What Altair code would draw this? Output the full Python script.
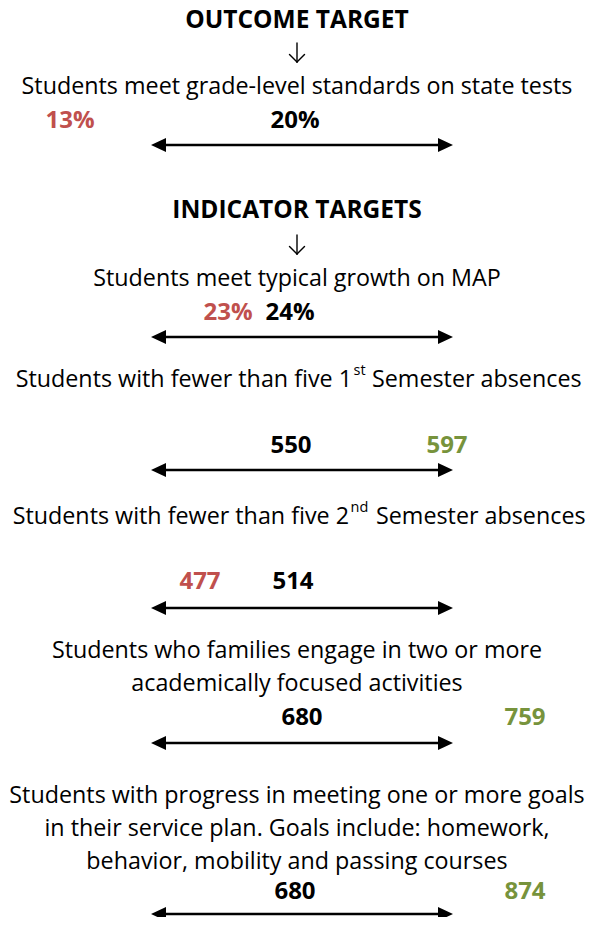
import altair as alt
import pandas as pd

# ---------------- data ----------------
headings = ["OUTCOME TARGET", "INDICATOR TARGETS"]

indicator_lines = [
    ["Students meet grade-level standards on state tests"],
    ["Students meet typical growth on MAP"],
    ["Students with fewer than five 1|st|Semester absences"],
    ["Students with fewer than five 2|nd|Semester absences"],
    ["Students who families engage in two or more",
     "academically focused activities"],
    ["Students with progress in meeting one or more goals",
     "in their service plan. Goals include: homework,",
     "behavior, mobility and passing courses"],
]

targets = ["20%", "24%", "550", "514", "680", "680"]
actuals = ["13%", "23%", "597", "477", "759", "874"]
status = ["below", "below", "above", "below", "above", "above"]

# ---------------- layout (page pixels) ----------------
heading_y = [21, 211]
down_arrow_y = [43, 235]            # top of the small down arrow
line_y = [[87], [279], [380], [517], [651, 684], [796, 829, 862]]
sup_x = [None, None, 352, 349, None, None]   # end of text before superscript
sup_next = [None, None, 372, 376, None, None]
number_y = [121, 313, 446, 582, 718, 892]
target_x = [295, 290, 291, 293, 302, 295]
actual_x = [70, 228, 447, 200, 525, 525]
arrow_y = [145, 337, 470, 608, 743, 914]
arrow_left, arrow_right = 151, 453

FONT = "Open Sans"
BODY = 23.3
NUM = 24
HEAD = 24.5
RED = "#C0504D"
GREEN = "#77933C"
status_color = {"below": RED, "above": GREEN}

# ---------------- tables ----------------
head_df = pd.DataFrame({"text": headings, "x": [297] * len(headings), "y": heading_y})

num_rows = []
for i in range(len(targets)):
    num_rows.append({"text": targets[i], "x": target_x[i], "y": number_y[i], "c": "#000000"})
    num_rows.append({"text": actuals[i], "x": actual_x[i], "y": number_y[i], "c": status_color[status[i]]})
num_df = pd.DataFrame(num_rows)

body_rows, left_rows, sup_rows, right_rows = [], [], [], []
for i, lines in enumerate(indicator_lines):
    for txt, y in zip(lines, line_y[i]):
        if "|" in txt:
            a, s, b = txt.split("|")
            left_rows.append({"text": a, "x": sup_x[i], "y": y})
            sup_rows.append({"text": s, "x": sup_x[i] + 1.5, "y": y - 9})
            right_rows.append({"text": b, "x": sup_next[i], "y": y})
        else:
            body_rows.append({"text": txt, "x": 297, "y": y})
body_df = pd.DataFrame(body_rows)
left_df = pd.DataFrame(left_rows)
sup_df = pd.DataFrame(sup_rows)
right_df = pd.DataFrame(right_rows)

# small down arrows drawn as strokes: stem + two arms
da_rows = []
for y0 in down_arrow_y:
    da_rows.append({"x": 297, "y": y0, "x2": 297, "y2": y0 + 19})
    da_rows.append({"x": 289.5, "y": y0 + 11.5, "x2": 297, "y2": y0 + 19})
    da_rows.append({"x": 304.5, "y": y0 + 11.5, "x2": 297, "y2": y0 + 19})
da_df = pd.DataFrame(da_rows)

arrow_df = pd.DataFrame({"x": [arrow_left + 8] * len(arrow_y), "x2": [arrow_right - 8] * len(arrow_y), "y": arrow_y})
tri_df = pd.DataFrame({
    "x": [arrow_left + 7.5] * len(arrow_y) + [arrow_right - 7.5] * len(arrow_y),
    "y": arrow_y * 2,
    "side": ["L"] * len(arrow_y) + ["R"] * len(arrow_y),
})

# ---------------- scales ----------------
W, H = 579, 909
xs = alt.Scale(domain=[8, 8 + W], nice=False, zero=False)
ys = alt.Scale(domain=[8, 8 + H], nice=False, zero=False, reverse=True)
X = lambda f="x": alt.X(f, type="quantitative", scale=xs, axis=None)
Y = lambda f="y": alt.Y(f, type="quantitative", scale=ys, axis=None)

heads_txt = alt.Chart(head_df).mark_text(font=FONT, fontSize=HEAD, fontWeight="bold", baseline="middle", align="center", color="#000000").encode(
    x=X(), y=Y(), text="text:N")
nums = alt.Chart(num_df).mark_text(font=FONT, fontSize=NUM, fontWeight="bold", baseline="middle", align="center").encode(
    x=X(), y=Y(), text="text:N", color=alt.Color("c:N", scale=None))
body = alt.Chart(body_df).mark_text(font=FONT, fontSize=BODY, baseline="middle", align="center", color="#000000").encode(
    x=X(), y=Y(), text="text:N")
left = alt.Chart(left_df).mark_text(font=FONT, fontSize=BODY, baseline="middle", align="right", color="#000000").encode(
    x=X(), y=Y(), text="text:N")
sup = alt.Chart(sup_df).mark_text(font=FONT, fontSize=14.5, baseline="middle", align="left", color="#000000").encode(
    x=X(), y=Y(), text="text:N")
right = alt.Chart(right_df).mark_text(font=FONT, fontSize=BODY, baseline="middle", align="left", color="#000000").encode(
    x=X(), y=Y(), text="text:N")
down = alt.Chart(da_df).mark_rule(color="#000000", strokeWidth=1.4, strokeCap="round").encode(
    x=X(), y=Y(), x2="x2", y2="y2")
rules = alt.Chart(arrow_df).mark_rule(color="#000000", strokeWidth=2.7).encode(x=X(), x2="x2", y=Y())
tri_l = alt.Chart(tri_df[tri_df.side == "L"]).mark_point(
    shape="M-1,0L1,-0.93L1,0.93Z", filled=True, color="#000000", opacity=1, size=225, strokeWidth=0).encode(x=X(), y=Y())
tri_r = alt.Chart(tri_df[tri_df.side == "R"]).mark_point(
    shape="M1,0L-1,-0.93L-1,0.93Z", filled=True, color="#000000", opacity=1, size=225, strokeWidth=0).encode(x=X(), y=Y())

chart = alt.layer(rules, tri_l, tri_r, down, body, left, sup, right, heads_txt, nums).properties(
    width=W, height=H, padding=0, autosize=alt.AutoSizeParams(type="none")
).configure_view(stroke=None)

chart.save("out.html", embed_options={"renderer": "svg", "actions": False})
